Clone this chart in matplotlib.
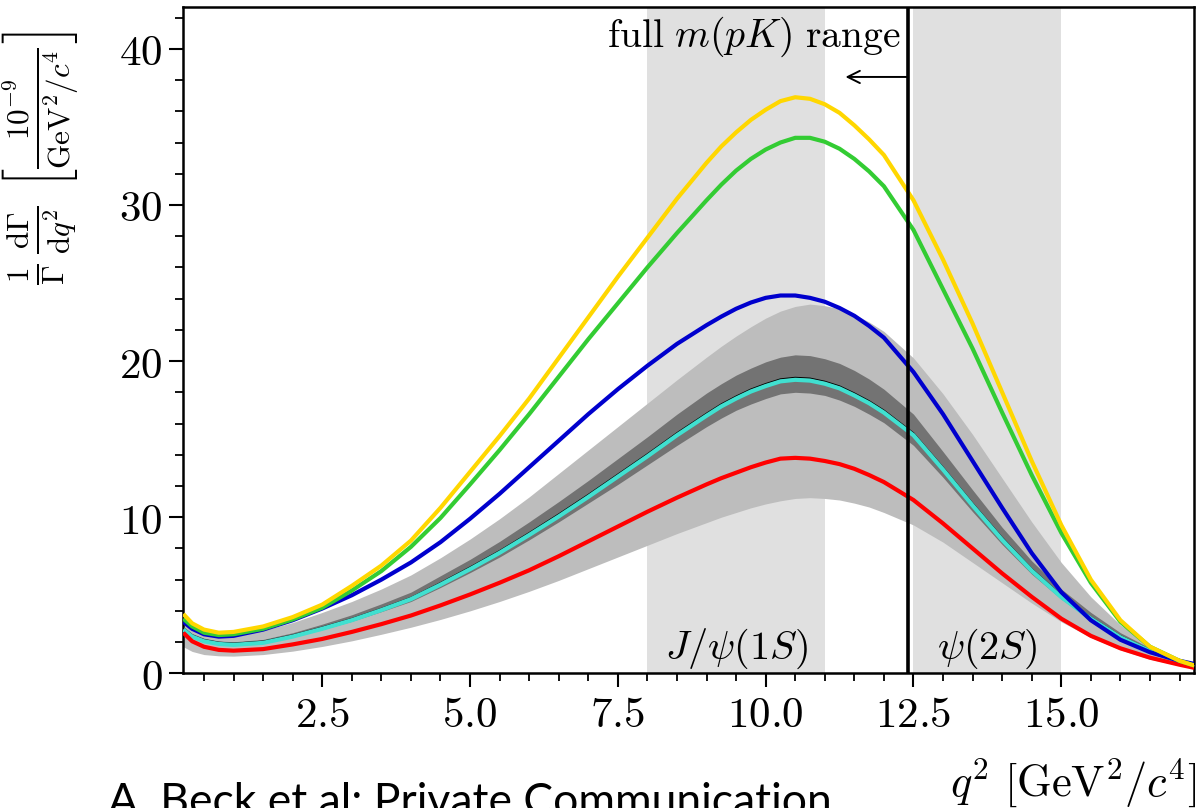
import matplotlib
matplotlib.use("Agg")
import matplotlib.pyplot as plt
from matplotlib.ticker import MultipleLocator, FuncFormatter

plt.rcParams['mathtext.fontset'] = 'cm'
plt.rcParams['font.family'] = ['DejaVu Serif']

# ---------------- data ----------------
q2 = [0.15, 0.3, 0.5, 0.75, 1.0, 1.5, 2.0, 2.5, 3.0, 3.5, 4.0, 4.5, 5.0, 5.5, 6.0, 6.5,
      7.0, 7.5, 8.0, 8.5,
      9.0, 9.25, 9.5, 9.75, 10.0, 10.25, 10.5, 10.75, 11.0, 11.25, 11.5, 11.75, 12.0,
      12.5, 13.0, 13.5, 14.0, 14.5, 15.0, 15.5, 16.0, 16.5, 17.0, 17.25]

yellow = [3.8, 3.2, 2.8, 2.6, 2.65, 3.0, 3.6, 4.4, 5.6, 6.9, 8.5, 10.6, 12.9, 15.2, 17.6, 20.2,
          22.8, 25.4, 27.9, 30.4,
          32.7, 33.75, 34.65, 35.45, 36.1, 36.65, 36.9, 36.8, 36.45, 35.9, 35.1, 34.2, 33.2,
          30.3, 26.5, 22.4, 18.0, 13.6, 9.5, 6.0, 3.4, 1.7, 0.8, 0.5]
green = [3.5, 3.0, 2.6, 2.45, 2.5, 2.85, 3.45, 4.2, 5.3, 6.55, 8.1, 9.95, 12.1, 14.3, 16.6, 19.0,
         21.4, 23.7, 26.0, 28.2,
         30.3, 31.3, 32.2, 32.95, 33.55, 34.0, 34.3, 34.3, 34.05, 33.6, 32.95, 32.15, 31.2,
         28.4, 24.6, 20.8, 16.7, 12.7, 9.0, 5.8, 3.3, 1.7, 0.8, 0.5]
blue = [3.3, 2.85, 2.5, 2.35, 2.4, 2.8, 3.4, 4.15, 5.0, 6.0, 7.1, 8.4, 9.9, 11.5, 13.2, 14.9,
        16.6, 18.2, 19.7, 21.1,
        22.3, 22.85, 23.35, 23.75, 24.05, 24.2, 24.2, 24.05, 23.8, 23.4, 22.9, 22.25, 21.5,
        19.3, 16.6, 13.6, 10.6, 7.7, 5.2, 3.4, 2.15, 1.35, 0.8, 0.6]
central = [2.9, 2.45, 2.15, 1.98, 1.92, 2.05, 2.45, 2.95, 3.5, 4.15, 4.85, 5.8, 6.8, 7.85, 9.0, 10.2,
           11.45, 12.75, 14.05, 15.4,
           16.65, 17.25, 17.75, 18.2, 18.55, 18.85, 18.95, 18.9, 18.7, 18.4, 17.95, 17.45, 16.85,
           15.4, 13.2, 10.9, 8.7, 6.7, 5.0, 3.6, 2.4, 1.5, 0.8, 0.5]
cyan = [2.8, 2.35, 2.05, 1.88, 1.82, 1.95, 2.35, 2.85, 3.4, 4.05, 4.75, 5.68, 6.67, 7.72, 8.86, 10.05,
        11.3, 12.6, 13.9, 15.25,
        16.5, 17.1, 17.6, 18.05, 18.4, 18.7, 18.8, 18.75, 18.55, 18.25, 17.8, 17.3, 16.7,
        15.25, 13.05, 10.75, 8.55, 6.57, 4.88, 3.5, 2.3, 1.42, 0.72, 0.42]
red = [2.6, 2.05, 1.7, 1.5, 1.45, 1.55, 1.85, 2.2, 2.65, 3.15, 3.7, 4.35, 5.05, 5.8, 6.6, 7.5,
       8.45, 9.4, 10.35, 11.25,
       12.1, 12.5, 12.85, 13.2, 13.5, 13.75, 13.8, 13.75, 13.6, 13.4, 13.1, 12.7, 12.25,
       11.1, 9.6, 8.0, 6.4, 4.9, 3.5, 2.4, 1.6, 1.0, 0.55, 0.35]
band_outer_hi = [3.2, 2.8, 2.5, 2.4, 2.45, 2.75, 3.25, 3.9, 4.6, 5.4, 6.3, 7.4, 8.6, 9.9, 11.3, 12.8,
                 14.3, 15.8, 17.3, 18.8,
                 20.25, 20.95, 21.6, 22.2, 22.75, 23.2, 23.5, 23.65, 23.55, 23.35, 23.0, 22.5, 21.9,
                 20.2, 17.9, 15.3, 12.5, 9.7, 7.1, 4.9, 3.1, 1.8, 0.9, 0.55]
band_outer_lo = [1.7, 1.4, 1.2, 1.12, 1.1, 1.2, 1.42, 1.72, 2.08, 2.5, 2.95, 3.45, 4.0, 4.6, 5.25, 5.95,
                 6.7, 7.45, 8.2, 8.95,
                 9.65, 10.0, 10.3, 10.6, 10.85, 11.05, 11.2, 11.25, 11.2, 11.1, 10.9, 10.65, 10.3,
                 9.5, 8.4, 7.1, 5.8, 4.5, 3.3, 2.3, 1.5, 0.9, 0.5, 0.3]
band_inner_hi = [3.0, 2.55, 2.25, 2.07, 2.02, 2.17, 2.6, 3.15, 3.75, 4.45, 5.2, 6.25, 7.3, 8.45, 9.7, 11.0,
                 12.35, 13.75, 15.15, 16.6,
                 17.95, 18.55, 19.1, 19.55, 19.95, 20.25, 20.4, 20.35, 20.15, 19.85, 19.4, 18.85, 18.2,
                 16.6, 14.2, 11.75, 9.35, 7.2, 5.4, 3.9, 2.6, 1.62, 0.86, 0.54]
band_inner_lo = [2.8, 2.35, 2.05, 1.88, 1.83, 1.95, 2.33, 2.8, 3.33, 3.95, 4.6, 5.5, 6.45, 7.45, 8.55, 9.7,
                 10.9, 12.1, 13.35, 14.6,
                 15.8, 16.35, 16.85, 17.25, 17.6, 17.9, 18.0, 17.95, 17.8, 17.5, 17.1, 16.6, 16.05,
                 14.6, 12.55, 10.35, 8.25, 6.35, 4.75, 3.4, 2.28, 1.42, 0.76, 0.47]

veto_bands = [(8.0, 11.0), (12.5, 15.0)]
veto_labels = [r"$J/\psi(1S)$", r"$\psi(2S)$"]
mpk_limit = 12.4

# ---------------- figure ----------------
W, H = 1203, 808
fig = plt.figure(figsize=(W / 100, H / 100), dpi=100)
ax = fig.add_axes([183.3 / W, 1 - 673.3 / H, (1194.3 - 183.3) / W, (673.3 - 6.7) / H])
ax.set_xlim(0.15, 17.25)
ax.set_ylim(0, 42.7)

for (a, b), lab in zip(veto_bands, veto_labels):
    ax.axvspan(a, b, color='#e0e0e0', lw=0, zorder=0)
    ax.text((a + b) / 2, 0.9, lab, ha='center', va='baseline', fontsize=29, zorder=1)

ax.fill_between(q2, band_outer_lo, band_outer_hi, color='#bdbdbd', lw=0, zorder=2)
ax.fill_between(q2, band_inner_lo, band_inner_hi, color='#737373', lw=0, zorder=3)
ax.plot(q2, central, color='black', lw=1.0, zorder=4)
line_kw = dict(lw=3.0, solid_capstyle='butt', solid_joinstyle='round')
ax.plot(q2, cyan, color='#40e0d0', zorder=5, **line_kw)
ax.plot(q2, red, color='#ff0000', zorder=6, **line_kw)
ax.plot(q2, blue, color='#0000cd', zorder=6, **line_kw)
ax.plot(q2, green, color='#33cc33', zorder=7, **line_kw)
ax.plot(q2, yellow, color='#ffd700', zorder=8, **line_kw)

ax.axvline(mpk_limit, color='black', lw=2.6, zorder=9)
ax.annotate('', xy=(11.35, 38.2), xytext=(mpk_limit, 38.2),
            arrowprops=dict(arrowstyle='->', lw=1.4, color='black', shrinkA=0, shrinkB=0,
                            mutation_scale=22), zorder=10)
ax.text(12.29, 40.1, r"$\mathrm{full}\ m(pK)\ \mathrm{range}$", ha='right', va='baseline',
        fontsize=28.5, zorder=10)

# axes styling
for s in ['top', 'right', 'left', 'bottom']:
    ax.spines[s].set_linewidth(1.8)
ax.xaxis.set_major_locator(MultipleLocator(2.5))
ax.xaxis.set_minor_locator(MultipleLocator(0.5))
ax.yaxis.set_major_locator(MultipleLocator(10))
ax.yaxis.set_minor_locator(MultipleLocator(2))
ax.xaxis.set_major_formatter(FuncFormatter(lambda v, p: f'${v:.1f}$'))
ax.yaxis.set_major_formatter(FuncFormatter(lambda v, p: f'${v:.0f}$'))
ax.tick_params(which='major', direction='out', length=10, width=1.5, labelsize=31, pad=5)
ax.tick_params(which='minor', direction='out', length=6, width=1.3)
ax.tick_params(top=False, right=False)

fig.text(41 / W, 1 - 158 / H,
         r"$\frac{1}{\Gamma}\,\frac{\mathrm{d}\Gamma}{\mathrm{d}q^2}\ \left[\frac{10^{-9}}{\mathrm{GeV}^2/c^4}\right]$",
         rotation=90, ha='center', va='center', fontsize=32)
fig.text(1196 / W, 1 - 783 / H, r"$q^2\ [\mathrm{GeV}^2/c^4]$", ha='right', va='center', fontsize=32)
fig.text(108 / W, 1 - 815 / H, "A. Beck et al: Private Communication", ha='left', va='baseline',
         fontsize=32, family=['Lato', 'DejaVu Sans'])

fig.savefig('out.png', dpi=100)
